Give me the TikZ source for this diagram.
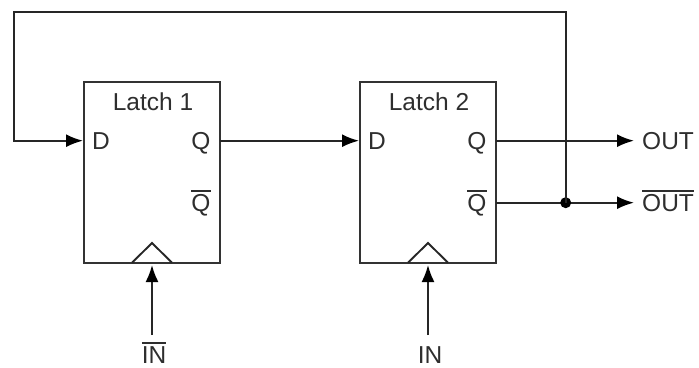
\documentclass[tikz,border=0pt]{standalone}
\usepackage{fontspec}
\setmainfont{Liberation Sans}
\usetikzlibrary{arrows.meta}
\newcommand{\barred}[1]{\vbox{\hrule height 1.6pt\kern 2.2pt\hbox{#1}}}
\tikzset{
 wire/.style={line width=1.9pt,draw=black!85},
 arrowwire/.style={wire,-{Latex[length=17pt,width=13pt,black]}},
 latchbox/.style={draw=black!80,line width=2pt,minimum width=136pt,minimum height=181pt,inner sep=0pt,outer sep=0pt,anchor=south west},
 lbl/.style={inner sep=0pt,anchor=base,font=\fontsize{24.5}{28}\selectfont,text=black!82},
}
\begin{document}
\begin{tikzpicture}[x=1pt,y=-1pt]
\useasboundingbox (0,0) rectangle (699,367);
\node[latchbox] (L1) at (83.5,262.7) {};
\node[latchbox] (L2) at (360,262.7) {};
\node[lbl] (t1) at (153,110) {Latch 1};
\node[lbl] (t2) at (429,110) {Latch 2};
\node[lbl] (d1) at (101,149) {D};
\node[lbl] (q1) at (201,149) {Q};
\node[lbl] (nq1) at (201,211) {\barred{Q}};
\node[lbl] (d2) at (377,149) {D};
\node[lbl] (q2) at (477,149) {Q};
\node[lbl] (nq2) at (477,211) {\barred{Q}};
\node[lbl,anchor=base west] (out) at (642,149) {OUT};
\node[lbl,anchor=base west] (nout) at (642,211) {\barred{OUT}};
\node[lbl] (nin) at (154,363) {\barred{IN}};
\node[lbl] (in) at (430,363) {IN};
\coordinate (c1) at (132,262.7);\coordinate (c2) at (172,262.7);\coordinate (c3) at (152,243);
\draw[wire] (c1)--(c3)--(c2);
\coordinate (c4) at (408,262.7);\coordinate (c5) at (448,262.7);\coordinate (c6) at (428,243);
\draw[wire] (c4)--(c6)--(c5);
\coordinate (s1) at (152,335);\coordinate (s2) at (428,335);
\coordinate (e1) at (152,265);\coordinate (e2) at (428,265);
\draw[arrowwire] (s1)--(e1);
\draw[arrowwire] (s2)--(e2);
\coordinate (a1) at (219.5,140.7);\coordinate (a2) at (359,140.7);
\draw[arrowwire] (a1)--(a2);
\coordinate (o1) at (495.5,140.7);\coordinate (o2) at (634,140.7);
\draw[arrowwire] (o1)--(o2);
\coordinate (p1) at (495.5,202.7);\coordinate (p2) at (634,202.7);
\draw[arrowwire] (p1)--(p2);
\coordinate (j) at (565.7,202.7);
\fill[black] (j) circle (5.5pt);
\coordinate (f1) at (565.7,12);\coordinate (f2) at (14,12);\coordinate (f3) at (14,140.7);\coordinate (f4) at (83,140.7);
\draw[arrowwire] (j)--(f1)--(f2)--(f3)--(f4);
\end{tikzpicture}
\end{document}
